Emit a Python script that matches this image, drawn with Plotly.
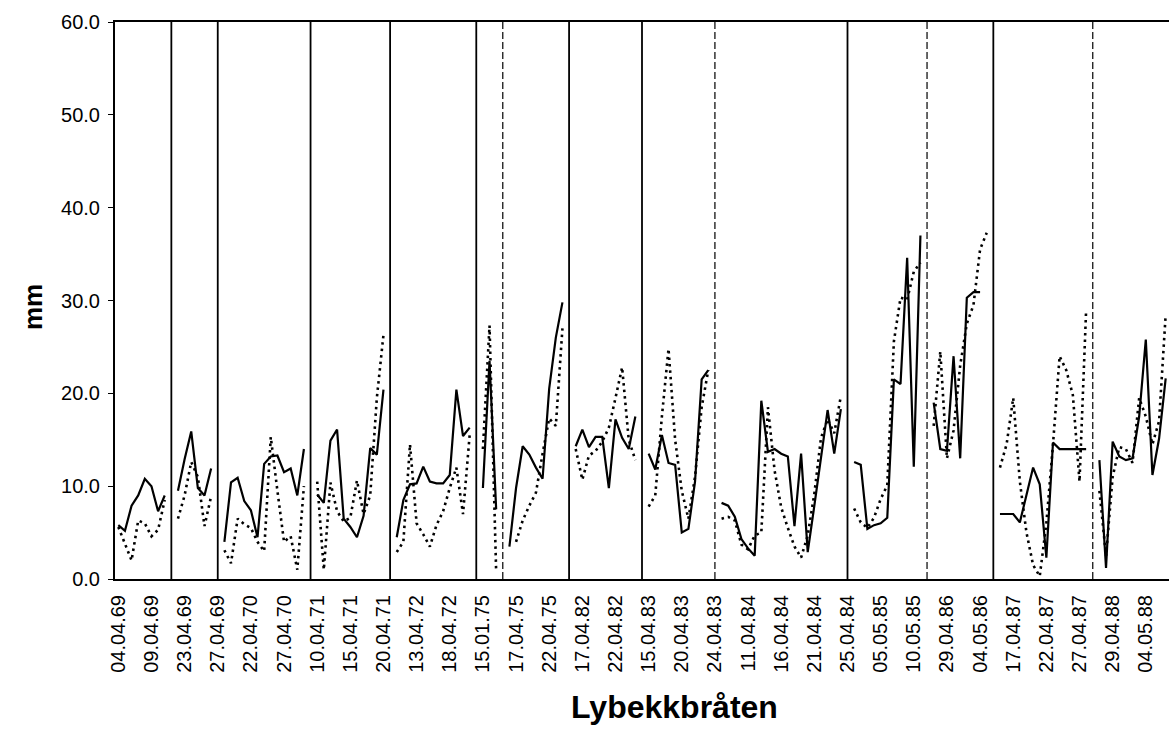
import plotly.graph_objects as go

# Category labels shown on every 5th day index
tick_labels = [
    "04.04.69", "09.04.69", "23.04.69", "27.04.69", "22.04.70", "27.04.70",
    "10.04.71", "15.04.71", "20.04.71", "13.04.72", "18.04.72", "15.01.75",
    "17.04.75", "22.04.75", "17.04.82", "22.04.82", "15.04.83", "20.04.83",
    "24.04.83", "11.04.84", "16.04.84", "21.04.84", "25.04.84", "05.05.85",
    "10.05.85", "29.04.86", "04.05.86", "17.04.87", "22.04.87", "27.04.87",
    "29.04.88", "04.05.88",
]
tick_step = 5

# First day index of every melt period
period_start = [0, 9, 16, 30, 42, 55, 59, 69, 80, 91, 111, 123, 133, 148]

# Daily values (mm), solid series
solid_mm = [
    [5.8, 5.2, 7.9, 9.0, 10.8, 10.0, 7.3, 9.0],
    [9.5, 12.9, 15.9, 9.8, 9.0, 11.9],
    [4.0, 10.4, 10.9, 8.4, 7.4, 4.5, 12.4, 13.2, 13.3, 11.5, 11.9, 9.0, 14.0],
    [9.1, 8.2, 14.9, 16.1, 6.5, 5.6, 4.5, 6.8, 14.1, 13.4, 20.4],
    [4.5, 8.5, 10.2, 10.3, 12.1, 10.5, 10.3, 10.3, 11.2, 20.4, 15.4, 16.3],
    [9.8, 23.5, 7.5],
    [3.5, 9.8, 14.3, 13.4, 12.0, 10.8, 20.5, 26.0, 29.8],
    [14.3, 16.1, 14.2, 15.3, 15.3, 9.8, 17.2, 15.2, 14.0, 17.5],
    [13.5, 11.8, 15.5, 12.5, 12.3, 5.0, 5.4, 10.5, 21.5, 22.5],
    [8.2, 7.9, 6.7, 4.3, 3.3, 2.5, 19.2, 13.7, 14.0, 13.5, 13.2, 5.7, 13.5,
     2.9, 7.9, 13.0, 18.2, 13.5, 18.3],
    [12.6, 12.3, 5.4, 5.8, 6.0, 6.6, 21.5, 21.0, 34.6, 12.1, 37.0],
    [19.0, 14.0, 13.8, 24.0, 13.0, 30.3, 30.9, 30.9, None],
    [7.0, 7.0, 7.0, 6.1, 9.0, 12.0, 10.2, 2.3, 14.7, 14.0, 14.0, 14.0, 14.0, 14.0],
    [12.8, 1.2, 14.8, 13.2, 12.8, 13.0, 17.5, 25.8, 11.2, 15.1, 21.6],
]

# Daily values (mm), dotted series
dotted_mm = [
    [5.6, 3.9, 2.0, 6.3, 6.0, 4.6, 5.3, 8.5],
    [6.5, 9.0, 12.6, 11.0, 5.7, 8.9],
    [3.1, 1.7, 6.5, 5.9, 5.5, 4.0, 3.0, 15.3, 9.5, 4.0, 4.6, 1.0, 10.0],
    [10.5, 1.0, 10.4, 7.3, 6.2, 6.6, 10.6, 7.0, 9.0, 19.5, 26.3],
    [2.9, 4.0, 14.5, 6.0, 4.8, 3.5, 5.8, 7.3, 9.8, 12.0, 7.0, 15.5],
    [14.0, 27.3, 0.8],
    [None, 4.0, 6.3, 7.9, 9.3, 13.5, 17.3, 16.5, 27.0],
    [14.0, 10.7, 13.3, 13.8, 14.8, 16.3, 19.5, 22.8, 15.0, 12.8],
    [7.8, 9.0, 17.5, 24.8, 15.0, 9.5, 6.5, 11.0, 18.5, 22.5],
    [6.5, 6.7, 6.3, 3.7, 3.2, 4.7, 5.0, 18.5, 11.7, 7.7, 5.5, 3.5, 2.3, 4.7,
     9.2, 15.2, 17.2, 15.7, 19.7],
    [7.6, 6.1, 5.5, 6.6, 8.6, 10.1, 25.6, 30.3, 30.1, 33.1, 34.1],
    [16.5, 24.5, 13.0, 16.0, 23.0, 27.5, 29.5, 35.5, 37.3],
    [12.0, 14.5, 19.5, 10.5, 5.0, 1.5, 0.3, 6.0, 14.5, 24.0, 22.5, 19.8, 10.5, 29.0],
    [9.5, 2.5, 11.0, 14.2, 14.0, 12.5, 19.5, 17.5, 14.5, 17.0, 28.5],
]

# Empty day slots that hold the period divider lines
separator_idx = [8, 15, 29, 41, 54, 58, 68, 79, 90, 110, 122, 132, 147]

Y_MAX = 60.0
FONT = "Liberation Sans, Arial, sans-serif"


def series_xy(values):
    xs, ys = [], []
    for start, vals in zip(period_start, values):
        for i, v in enumerate(vals):
            xs.append(start + i)
            ys.append(v)
        xs.append(None)
        ys.append(None)
    return xs, ys


def divider_xy(indices):
    xs, ys = [], []
    for s in indices:
        xs += [s, s, None]
        ys += [0, Y_MAX, None]
    return xs, ys


fig = go.Figure()

# period dividers: most solid, a few printed faintly
faint = {58, 90, 122, 147}
dx, dy = divider_xy([s for s in separator_idx if s not in faint])
fig.add_trace(go.Scatter(x=dx, y=dy, mode="lines", hoverinfo="skip",
                         line=dict(color="black", width=1.8), showlegend=False))
dx, dy = divider_xy([s for s in separator_idx if s in faint])
fig.add_trace(go.Scatter(x=dx, y=dy, mode="lines", hoverinfo="skip",
                         line=dict(color="black", width=1.2, dash="7px,3px"),
                         showlegend=False))

sx, sy = series_xy(dotted_mm)
fig.add_trace(go.Scatter(x=sx, y=sy, mode="lines", name="beregnet",
                         line=dict(color="black", width=2.6, dash="2.5px,4px"),
                         connectgaps=False, showlegend=False))

sx, sy = series_xy(solid_mm)
fig.add_trace(go.Scatter(x=sx, y=sy, mode="lines", name="målt",
                         line=dict(color="black", width=2.2),
                         connectgaps=False, showlegend=False))

tick_vals = [i * tick_step for i in range(len(tick_labels))]

W, H = 1169, 729
M_L, M_R, M_T, M_B = 115, 0, 22, 150
plot_w = W - M_L - M_R
plot_h = H - M_T - M_B


def px_to_paper(px, py):
    return (px - M_L) / plot_w, (H - M_B - py) / plot_h


fig.update_layout(
    width=W, height=H,
    margin=dict(l=M_L, r=M_R, t=M_T, b=M_B),
    paper_bgcolor="white", plot_bgcolor="white",
    font=dict(family=FONT, color="black"),
    xaxis=dict(
        range=[-0.5, 158.5],
        tickmode="array", tickvals=tick_vals, ticktext=tick_labels,
        tickangle=-90, tickfont=dict(size=20, family=FONT, color="black"),
        showgrid=False, zeroline=False,
        showline=True, linecolor="black", linewidth=2, mirror=True,
        ticks="", ticklabelstandoff=6,
    ),
    yaxis=dict(
        range=[0, Y_MAX], dtick=10, tickformat=".1f",
        tickfont=dict(size=20, family=FONT, color="black"),
        showgrid=False, zeroline=False,
        showline=True, linecolor="black", linewidth=2,
        ticks="outside", ticklen=5, tickwidth=1, tickcolor="black",
        ticklabelstandoff=4,
    ),
)

tx, ty = px_to_paper(674, 707)
fig.add_annotation(text="<b>Lybekkbråten</b>", x=tx, y=ty, xref="paper", yref="paper",
                   showarrow=False, xanchor="center", yanchor="middle",
                   font=dict(size=32, family=FONT, color="black"))

mx, my = px_to_paper(33, 307)
fig.add_annotation(text="<b>mm</b>", x=mx, y=my, xref="paper", yref="paper",
                   showarrow=False, xanchor="center", yanchor="middle", textangle=-90,
                   font=dict(size=26, family=FONT, color="black"))

fig.write_html("out.html")
